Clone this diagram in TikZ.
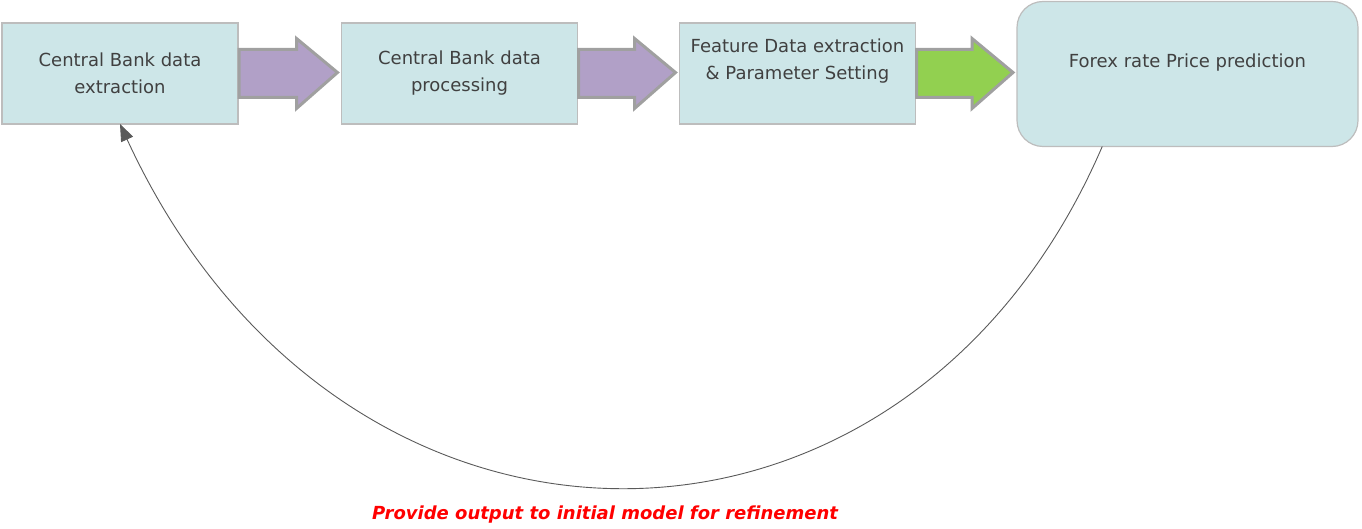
\documentclass[tikz,border=0pt]{standalone}
\usepackage{fontspec}
\setmainfont{DejaVu Sans}
\usetikzlibrary{calc,arrows.meta}
\definecolor{boxfill}{HTML}{CDE6E8}
\definecolor{boxline}{HTML}{BDBDBD}
\definecolor{boxtext}{HTML}{404040}
\definecolor{purplearrow}{HTML}{B1A0C7}
\definecolor{greenarrow}{HTML}{92D050}
\definecolor{arrowline}{HTML}{A0A0A0}
\definecolor{loopline}{HTML}{5A5A5A}
\tikzset{
  stepbox/.style={draw=boxline, line width=1.2pt, fill=boxfill, minimum width=236pt,
    minimum height=101pt, inner sep=0pt, outer sep=0pt},
  lbl/.style={text=boxtext, font=\fontsize{18}{27}\selectfont, align=center, inner sep=0pt},
  blockarrow/.style={draw=arrowline, line width=3pt, line join=miter},
  loop/.style={draw=loopline, line width=0.9pt, -{Triangle[length=17pt,width=13pt]}},
}
% arrow between two boxes: #1 source node, #2 target node, #3 fill colour
\newcommand\flowarrow[3]{%
  \draw[blockarrow, fill=#3] let \p1=(#1.east), \p2=(#2.west) in
    (\x1+1,\y1+24) -- (\x2-45,\y1+24) -- (\x2-45,\y1+35) -- (\x2-4,\y1+1)
    -- (\x2-45,\y1-35) -- (\x2-45,\y1-24) -- (\x1+1,\y1-24) -- cycle;}
\begin{document}
\begin{tikzpicture}[x=1pt,y=-1pt]
  \useasboundingbox (0,0) rectangle (1362,529);
  % process boxes
  \node[stepbox] (b1) at (120,73.5) {};
  \node[stepbox] (b2) at (459.5,73.5) {};
  \node[stepbox] (b3) at (797.5,73.5) {};
  \node[stepbox, rounded corners=26pt, minimum width=341pt, minimum height=145pt] (b4) at (1187.5,74) {};
  % box texts
  \node[lbl] (t1) at (b1.center) {Central Bank data\\extraction};
  \node[lbl] (t2) at (b2.center) {Central Bank data\\processing};
  \node[lbl] (t3) at ($(b3.center)+(0,-12)$) {Feature Data extraction\\\& Parameter Setting};
  \node[lbl] (t4) at ($(b4.center)+(0,-11)$) {Forex rate Price prediction};
  % block arrows between the steps
  \flowarrow{b1}{b2}{purplearrow}
  \flowarrow{b2}{b3}{purplearrow}
  \flowarrow{b3}{b4}{greenarrow}
  % feedback loop
  \coordinate (loopstart) at ($(b4.south west)!0.25!(b4.south east)$);
  \draw[loop] (loopstart) .. controls (905,604) and (341,604) .. (b1.south);
  \node[text=red, font=\fontsize{18}{22}\selectfont\bfseries\itshape, inner sep=0pt] (fb) at (605,515)
    {Provide output to initial model for refinement};
\end{tikzpicture}
\end{document}
